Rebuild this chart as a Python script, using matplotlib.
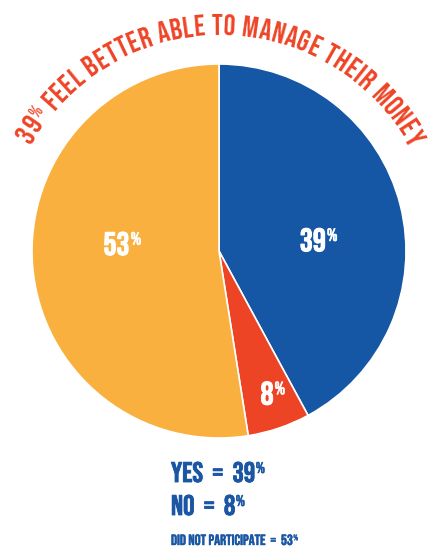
import numpy as np
import matplotlib
matplotlib.use("Agg")
import matplotlib.pyplot as plt
import matplotlib.patheffects as pe
from matplotlib import font_manager
from matplotlib.font_manager import FontProperties

# ------------------------------
# DATA
# ------------------------------

categories = ["YES", "NO", "DID NOT PARTICIPATE"]
reported_pct = [39, 8, 53]            # numbers printed on the chart
drawn_shares = [42.1, 5.4, 52.5]      # wedge sizes as drawn in the graphic
slice_colors = ["#1557A5", "#EE4426", "#F9B03E"]
title_text = "39% FEEL BETTER ABLE TO MANAGE THEIR MONEY"

RED = "#EE4426"
BLUE = "#1A56A3"

# ------------------------------
# FONT (condensed display face, with fallbacks)
# ------------------------------

FONT = "DejaVu Sans"
WEIGHT = "bold"
for cand in ["Bebas Neue", "Oswald", "League Gothic", "Roboto Condensed"]:
    try:
        font_manager.findfont(FontProperties(family=cand),
                              fallback_to_default=False)
        FONT = cand
        WEIGHT = "bold" if cand == "Roboto Condensed" else "normal"
        break
    except Exception:
        pass

W, H = 430, 552
fig = plt.figure(figsize=(W / 100, H / 100), dpi=100)
ax = fig.add_axes([0, 0, 1, 1])
renderer = fig.canvas.get_renderer()


def prop(size):
    return FontProperties(family=FONT, weight=WEIGHT, size=size)


def text_w(s, size):
    # advance width in px, measured between two H's so spaces count
    w1 = renderer.get_text_width_height_descent("H" + s + "H", prop(size), ismath=False)[0]
    w0 = renderer.get_text_width_height_descent("HH", prop(size), ismath=False)[0]
    return w1 - w0


def cap_h(size):
    w, h, d = renderer.get_text_width_height_descent("H", prop(size), ismath=False)
    return h - d


CAP_PER_PT = cap_h(100) / 100


def size_for(cap_px):
    return cap_px / CAP_PER_PT


def bold(color, lw):
    return [pe.withStroke(linewidth=lw, foreground=color)] if lw > 0 else []


def sup_text(x, y, main, sup, cap, color, ha="left", sup_scale=0.55, weight=0.03):
    """main text followed by a small raised % sign, y is the baseline"""
    size = size_for(cap)
    wm = text_w(main, size)
    ws = text_w(sup, size * sup_scale)
    x0 = x - (wm + ws) / 2 if ha == "center" else x
    lw = weight * cap
    ax.text(x0, y, main, fontproperties=prop(size), color=color,
            ha="left", va="baseline", path_effects=bold(color, lw))
    ax.text(x0 + wm + 1, y + cap * (1 - sup_scale), sup,
            fontproperties=prop(size * sup_scale), color=color,
            ha="left", va="baseline", path_effects=bold(color, lw * sup_scale))


# ------------------------------
# PIE
# ------------------------------

cx, cy, R = 219, H - 251, 187
wedges, _ = ax.pie(drawn_shares, colors=slice_colors, startangle=90,
                   counterclock=False, center=(cx, cy), radius=R,
                   wedgeprops=dict(edgecolor="white", linewidth=1.2))
ax.set_xlim(0, W)
ax.set_ylim(0, H)
ax.set_aspect("equal")
ax.axis("off")

# label offsets (in units of radius, from the centre)
label_offsets = [(0.53, 0.06), (0.285, -0.76), (-0.52, 0.04)]
label_cap = 23
for pct, (ox, oy) in zip(reported_pct, label_offsets):
    sup_text(cx + ox * R, cy + oy * R - label_cap / 2, str(pct), "%",
             label_cap, "white", ha="center")

# ------------------------------
# CURVED TITLE
# ------------------------------

r_base = 216
span_deg = 122
mid_deg = 0.5
title_cap = 21

chars = [(ch, 0.6 if ch == "%" else 1.0) for ch in title_text]
fs = size_for(title_cap)
target = np.radians(span_deg) * r_base
natural = sum(text_w(c, fs * s) for c, s in chars)
if natural > target:
    fs *= target / natural
widths = [text_w(c, fs * s) for c, s in chars]
track = (target - sum(widths)) / (len(chars) - 1)
widths = [w + track for w in widths]
total = sum(widths) - track
theta0 = np.radians(mid_deg) - total / r_base / 2
pos = 0.0
for (c, s), w in zip(chars, widths):
    th = theta0 + (pos + (w - track) / 2) / r_base
    pos += w
    if c == " ":
        continue
    rr = r_base + title_cap * (1 - s)
    ax.text(cx + rr * np.sin(th), cy + rr * np.cos(th), c,
            fontproperties=prop(fs * s), color=RED, ha="center",
            va="baseline", rotation=-np.degrees(th), rotation_mode="anchor")

# ------------------------------
# LEGEND TEXT
# ------------------------------

legend_x = 171
sup_text(legend_x, H - 482, f"{categories[0]}  =  {reported_pct[0]}", "%", 20, BLUE)
sup_text(legend_x, H - 515, f"{categories[1]}  =  {reported_pct[1]}", "%", 20, BLUE)
sup_text(legend_x, H - 545, f"{categories[2]}  =  {reported_pct[2]}", "%", 10.5, BLUE,
         weight=0.03)

fig.savefig("out.png", dpi=100)
